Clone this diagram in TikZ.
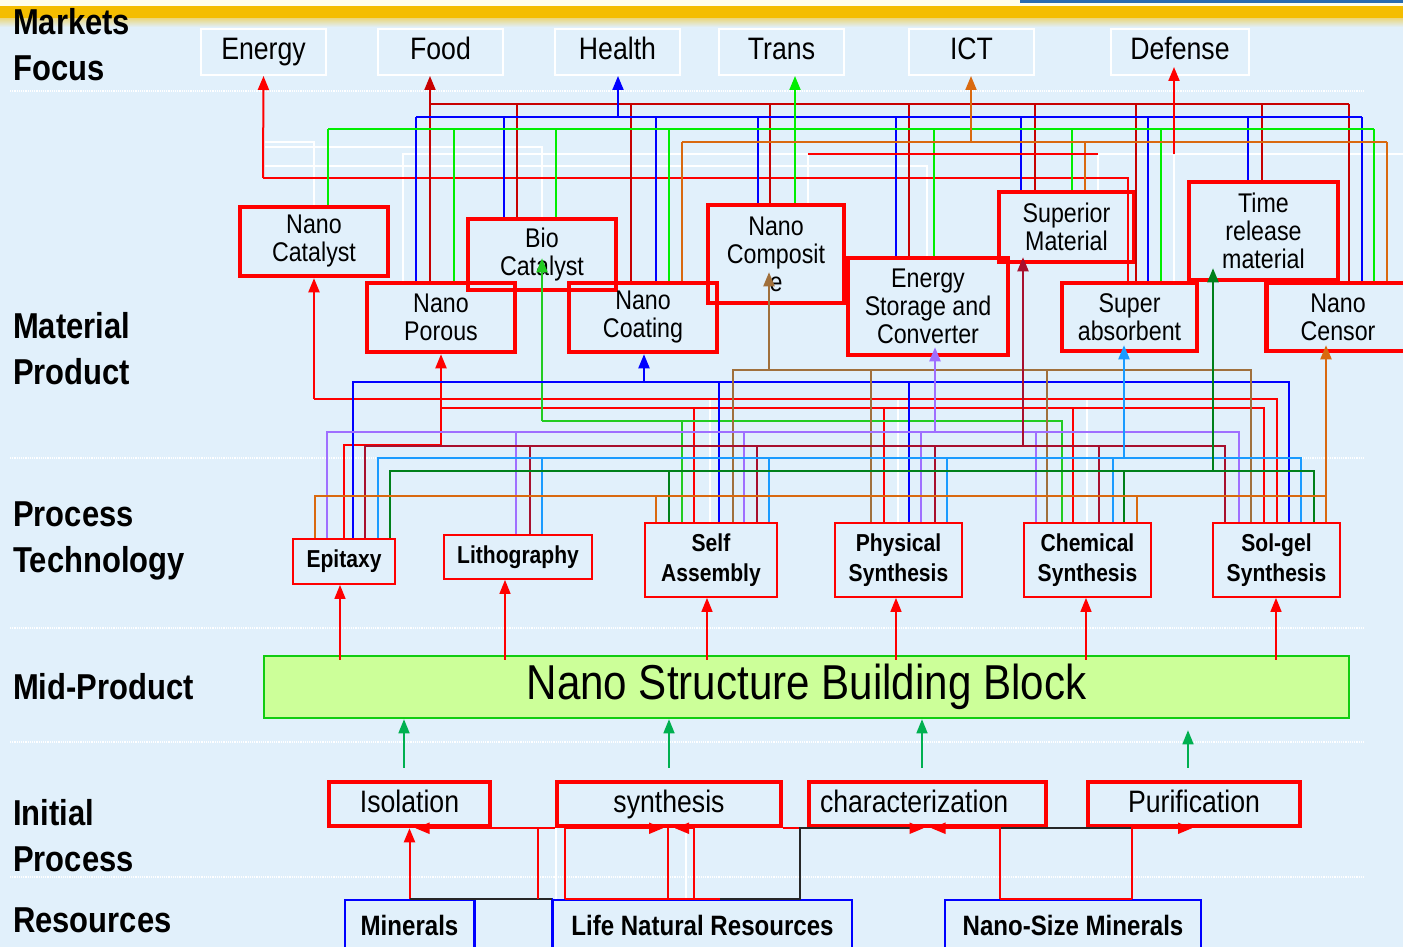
\documentclass[tikz,border=0pt]{standalone}
\usepackage{fontspec}
\setmainfont{Liberation Sans}[FakeStretch=0.86]
\usetikzlibrary{arrows.meta,calc}

\definecolor{bgblue}{HTML}{E1F0FB}
\definecolor{bandgold}{HTML}{F4BD00}
\definecolor{topblue}{HTML}{2A6BB0}
\definecolor{foodred}{HTML}{C80000}
\definecolor{transgreen}{HTML}{00EE00}
\definecolor{ictorange}{HTML}{D9690F}
\definecolor{compbrown}{HTML}{A0703C}
\definecolor{biogreen}{HTML}{22CC22}
\definecolor{esclav}{HTML}{9F6FFF}
\definecolor{supred}{HTML}{A8102E}
\definecolor{sabsblue}{HTML}{1A9BFF}
\definecolor{trmgreen}{HTML}{00801A}
\definecolor{midfill}{HTML}{CCFF99}
\definecolor{midedge}{HTML}{11CC11}
\definecolor{upgreen}{HTML}{00B050}

\begin{document}
\begin{tikzpicture}[x=1pt,y=-1pt,
  market/.style={draw=white,line width=2pt,minimum width=125pt,minimum height=46pt,inner sep=0pt,
    text height=22pt,text depth=6pt,font=\fontsize{31}{31}\selectfont},
  matbox/.style={draw=red,line width=4.5pt,align=center,inner sep=0pt,font=\fontsize{27}{28}\selectfont},
  procbox/.style={draw=red,line width=1.8pt,align=center,inner sep=0pt,font=\bfseries\fontsize{24.5}{30}\selectfont},
  initbox/.style={draw=red,line width=4.5pt,minimum height=44pt,inner sep=0pt,
    text height=22pt,text depth=6pt,font=\fontsize{31}{31}\selectfont},
  resbox/.style={draw=blue,line width=1.8pt,minimum height=56pt,inner sep=0pt,
    text height=20pt,text depth=5pt,font=\bfseries\fontsize{28}{28}\selectfont},
  rowlabel/.style={anchor=west,align=left,inner sep=0pt,font=\bfseries\fontsize{36}{46}\selectfont},
  link/.style={line width=2pt},
  tip/.style={-{Triangle[length=14pt,width=11pt]}},
  ghost/.style={white,line width=2pt},
]
\useasboundingbox (0,0) rectangle (1403,947);
% background and top band
\fill[bgblue] (0,0) rectangle (1403,947);
\fill[yellow!8!white] (0,0) rectangle (1403,7);
\fill[bandgold] (0,6) rectangle (1403,19);
\shade[top color=bandgold!45!bgblue,bottom color=bgblue] (0,19) rectangle (1403,27);
\fill[topblue] (1020,0) rectangle (1403,3);
\foreach \y in {91,458,628,742,877}
  \draw[white,densely dotted,line width=1.2pt] (10,\y) -- (1365,\y);

% row labels
\node[rowlabel] (lmkt) at (13,45) {Markets\\Focus};
\node[rowlabel] (lmat) at (13,349) {Material\\Product};
\node[rowlabel] (lproc) at (13,541) {Process\\Technology};
\node[rowlabel] (lmid) at (13,687) {Mid-Product};
\node[rowlabel] (linit) at (13,836) {Initial\\Process};
\node[rowlabel] (lres) at (13,920) {Resources};

% markets
\node[market] (energy) at (263.5,52) {Energy};
\node[market] (food) at (440.5,52) {Food};
\node[market] (health) at (617.5,52) {Health};
\node[market] (trans) at (781.5,52) {Trans};
\node[market] (ict) at (971.5,52) {ICT};
\node[market,minimum width=138pt] (defense) at (1180,52) {Defense};

% material products
\node[matbox,minimum width=148pt,minimum height=69pt] (ncat) at (314,241.5) {Nano\\Catalyst};
\node[matbox,minimum width=148pt,minimum height=69pt] (npor) at (441,317.5) {Nano\\Porous};
\node[matbox,minimum width=148pt,minimum height=71pt] (bioc) at (542,254.5) {Bio\\Catalyst};
\node[matbox,minimum width=148pt,minimum height=69pt] (ncoat) at (643,317.5) {Nano\\Coating};
\node[matbox,minimum width=136pt,minimum height=98pt] (ncomp) at (776,254) {Nano\\Composit\\e};
\node[matbox,minimum width=160pt,minimum height=97pt] (esc) at (928,306.5) {Energy\\Storage and\\Converter};
\node[matbox,minimum width=135pt,minimum height=70pt] (smat) at (1066.5,227) {Superior\\Material};
\node[matbox,minimum width=135pt,minimum height=68pt] (sabs) at (1129.5,317) {Super\\absorbent};
\node[matbox,minimum width=149pt,minimum height=98pt] (trm) at (1263.5,231) {Time\\release\\material};
\node[matbox,minimum width=143pt,minimum height=68pt] (ncen) at (1338,317) {Nano\\Censor};

% process technology
\node[procbox,minimum width=102pt,minimum height=45pt] (epi) at (344,561.5) {Epitaxy};
\node[procbox,minimum width=148pt,minimum height=44pt] (lith) at (518,557) {Lithography};
\node[procbox,minimum width=132pt,minimum height=74pt] (sa) at (711,560) {Self\\Assembly};
\node[procbox,minimum width=127pt,minimum height=74pt] (phys) at (898.5,560) {Physical\\Synthesis};
\node[procbox,minimum width=127pt,minimum height=74pt] (chem) at (1087.5,560) {Chemical\\Synthesis};
\node[procbox,minimum width=127pt,minimum height=74pt] (solgel) at (1276.5,560) {Sol-gel\\Synthesis};

% mid product
\node[draw=midedge,fill=midfill,line width=2.5pt,minimum width=1085pt,minimum height=62pt,
  font=\fontsize{49}{49}\selectfont] (nsbb) at (806.5,687) {Nano Structure Building Block};

% initial process
\node[initbox,minimum width=161pt] (iso) at (409.5,804) {Isolation};
\node[initbox,minimum width=224pt] (syn) at (669,804) {synthesis};
\node[initbox,minimum width=237pt,text width=215pt,align=left] (char) at (927.5,804) {characterization};
\node[initbox,minimum width=212pt] (pur) at (1194,804) {Purification};

% resources
\node[resbox,minimum width=129pt] (min) at (409.5,928) {Minerals};
\node[resbox,minimum width=299pt] (lnr) at (702.5,928) {Life Natural Resources};
\node[resbox,minimum width=256pt] (nsm) at (1073,928) {Nano-Size Minerals};
\draw[blue,line width=1.8pt] (min.north east) rectangle (lnr.south west);

% ghost lines
\draw[ghost] (265,142) -| (ncat.north -| 314,0);
\draw[ghost] (265,147) -| (bioc.north -| 542,0);
\draw[ghost] (ncomp.north -| 808,0) |- (403,154) -- (npor.north -| 403,0);
\draw[ghost] (265,166) -| (esc.north -| 927,0);
\draw[ghost] (1098,154) -- (1403,154);
\draw[ghost] (1098,154) -- (smat.north -| 1098,0);
\draw[ghost] (1174,154) -- (sabs.north -| 1174,0);
\foreach \x/\b in {710/sa,898/phys,1087/chem}
  \draw[ghost] (\x,398) -- (\b.north -| \x,0);
\foreach \x in {556,686}
  \draw[ghost] (lnr.north -| \x,0) -- (syn.south -| \x,0);

% material -> markets
\draw[link,red] (sabs.north -| 1128,0) |- (263,178);
\draw[link,red,tip] (263,178) -- (energy.south);
\draw[link,foodred,tip] (npor.north -| 430,0) -- (food.south -| 430,0);
\draw[link,foodred] (430,104) -- (1349,104);
\foreach \x/\b in {517/bioc,631/ncoat,770/ncomp,909/esc,1035/smat,1136/sabs,1262/trm,1349/ncen}
  \draw[link,foodred] (\x,104) -- (\b.north -| \x,0);
\draw[link,blue] (416,117) -- (1362,117);
\draw[link,blue,tip] (618,117) -- (health.south -| 618,0);
\foreach \x/\b in {416/npor,504/bioc,656/ncoat,758/ncomp,896/esc,1021/smat,1148/sabs,1248/trm,1362/ncen}
  \draw[link,blue] (\x,117) -- (\b.north -| \x,0);
\draw[link,transgreen] (328,129) -- (1374,129);
\draw[link,transgreen,tip] (ncomp.north -| 795,0) -- (trans.south -| 795,0);
\foreach \x/\b in {328/ncat,454/npor,556/bioc,669/ncoat,934/esc,1072/smat,1161/sabs,1374/ncen}
  \draw[link,transgreen] (\x,129) -- (\b.north -| \x,0);
\draw[link,ictorange] (682,142) -- (1387,142);
\draw[link,ictorange,tip] (971,142) -- (ict.south -| 971,0);
\foreach \x/\b in {682/ncoat,1085/smat,1387/ncen}
  \draw[link,ictorange] (\x,142) -- (\b.north -| \x,0);
\draw[link,red] (808,154) -- (1098,154);
\draw[link,red,tip] (1174,154) -- ($(defense.south)+(-6,-9)$);

% process -> material
\draw[link,red,tip] (314,399) -- (ncat.south -| 314,0);
\draw[link,red] (314,399) -| (solgel.north -| 1277,0);
\draw[link,red] (epi.north -| 344,0) |- (441,445);
\draw[link,red,tip] (441,445) -- (npor.south -| 441,0);
\draw[link,red] (441,408) -| (solgel.north -| 1264,0);
\foreach \x/\b in {694/sa,884/phys,1073/chem}
  \draw[link,red] (\x,408) -- (\b.north -| \x,0);
\draw[link,biogreen,tip] (542,421) -- ($(bioc.south)+(0,-34)$);
\draw[link,biogreen] (542,421) -| (chem.north -| 1062,0);
\draw[link,biogreen] (682,421) -- (sa.north -| 682,0);
\draw[link,blue,tip] (644,382) -- (ncoat.south -| 644,0);
\draw[link,blue] (epi.north -| 353,0) |- (1289,382) -- (solgel.north -| 1289,0);
\foreach \x/\b in {719/sa,909/phys}
  \draw[link,blue] (\x,382) -- (\b.north -| \x,0);
\draw[link,compbrown,tip] (769,370) -- ($(ncomp.south)+(-7,-33)$);
\draw[link,compbrown] (sa.north -| 733,0) |- (1251,370) -- (solgel.north -| 1251,0);
\foreach \x/\b in {871/phys,1047/chem}
  \draw[link,compbrown] (\x,370) -- (\b.north -| \x,0);
\draw[link,esclav,tip] (935,432) -- ($(esc.south)+(7,-10)$);
\draw[link,esclav] (epi.north -| 327,0) |- (1239,432) -- (solgel.north -| 1239,0);
\foreach \x/\b in {516/lith,744/sa,921/phys,1036/chem}
  \draw[link,esclav] (\x,432) -- (\b.north -| \x,0);
\draw[link,supred,tip] (1023,446) -- ($(smat.south)+(-43.5,-7)$);
\draw[link,supred] (epi.north -| 365,0) |- (1225,446) -- (solgel.north -| 1225,0);
\foreach \x/\b in {530/lith,757/sa,935/phys,1099/chem}
  \draw[link,supred] (\x,446) -- (\b.north -| \x,0);
\draw[link,sabsblue,tip] (1124,458) -- ($(sabs.south)+(-5.5,-8)$);
\draw[link,sabsblue] (epi.north -| 378,0) |- (1301,458) -- (solgel.north -| 1301,0);
\foreach \x/\b in {542/lith,769/sa,947/phys,1113/chem}
  \draw[link,sabsblue] (\x,458) -- (\b.north -| \x,0);
\draw[link,trmgreen,tip] (1213,471) -- ($(trm.south)+(-50.5,-14)$);
\draw[link,trmgreen] (epi.north -| 390,0) |- (1314,471) -- (solgel.north -| 1314,0);
\foreach \x/\b in {669/sa,1124/chem}
  \draw[link,trmgreen] (\x,471) -- (\b.north -| \x,0);
\draw[link,ictorange,tip] (1326,496) -- ($(ncen.south)+(-12,-8)$);
\draw[link,ictorange] (epi.north -| 315,0) |- (1326,496) -- (solgel.north -| 1326,0);
\foreach \x/\b in {656/sa,1137/chem}
  \draw[link,ictorange] (\x,496) -- (\b.north -| \x,0);

% mid product -> process
\foreach \x/\b in {340/epi,505/lith,707/sa,896/phys,1086/chem,1276/solgel}
  \draw[red,line width=1.5pt,tip] ($(nsbb.north -| \x,0)+(0,5)$) -- (\b.south -| \x,0);

% initial process -> mid product
\foreach \x/\b in {404/iso,669/syn,922/char}
  \draw[upgreen,line width=1.5pt,tip] ($(\b.north -| \x,0)+(0,-12)$) -- (nsbb.south -| \x,0);
\draw[upgreen,line width=1.5pt,tip] ($(pur.north -| 1188,0)+(0,-12)$) -- ($(nsbb.south -| 1188,0)+(0,11)$);

% resources -> initial process
\draw[link,red,tip] (min.north) -- (iso.south);
\draw[link,black!85] (min.north) -- (lnr.north west);
\draw[link,red,tip] (lnr.north -| 538,0) |- ($(iso.south)+(6,0)$);
\draw[link,red] (iso.south east) -- (syn.south west);
\draw[link,red] (lnr.north -| 565,0) -- (lnr.north -| 720,0);
\draw[link,red,tip] (lnr.north -| 565,0) |- ($(syn.south)+(-6,0)$);
\draw[link,red,tip] (lnr.north -| 694,0) |- ($(syn.south)+(6,0)$);
\draw[link,red] (lnr.north -| 668,0) -- (syn.south -| 668,0);
\draw[link,red] (syn.south east) -- (char.south -| 800,0);
\draw[link,black!85,-{Triangle[length=14pt,width=11pt,color=red]}] (lnr.north -| 720,0) -- (lnr.north -| 800,0) |- ($(char.south)+(-4,0)$);
\draw[link,red] (nsm.north -| 1000,0) -- (nsm.north -| 1132,0);
\draw[link,black!85] (char.south -| 1000,0) -- (char.south -| 1132,0);
\draw[link,red,tip] (nsm.north -| 1000,0) |- ($(char.south)+(4,0)$);
\draw[link,red,tip] (nsm.north -| 1132,0) |- ($(pur.south)+(-2,0)$);
\end{tikzpicture}
\end{document}
